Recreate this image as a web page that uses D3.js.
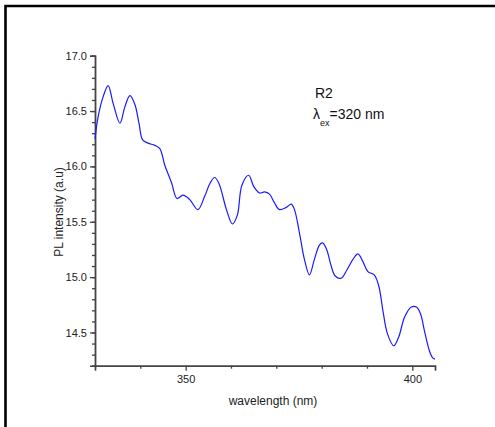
<!DOCTYPE html>
<html lang="en">
  <head>
    <meta charset="utf-8" />
    <title>PL spectrum R2</title>
    <script src="https://d3js.org/d3.v7.min.js"></script>
    <style>
      body { margin: 0; background: #fff; }
      svg { display: block; }
      .tick text { font-family: "Liberation Sans", Arial, sans-serif; font-size: 11px; fill: #222; }
      .axisText { font-family: "Liberation Sans", Arial, sans-serif; font-size: 12px; fill: #222; }
      .note { font-family: "Liberation Sans", Arial, sans-serif; font-size: 14px; fill: #111; }
    </style>
  </head>
  <body>
    <div id="content"></div>
    <script>
      // spectrum: wavelength (nm) and PL intensity (a.u)
      const wavelength = [
        330.0, 330.7, 331.8, 332.9, 334.0, 335.5, 336.6, 337.7, 338.8, 339.7,
        340.5, 341.7, 343.2, 344.3, 345.4, 346.9, 348.1, 349.4, 350.9, 352.7,
        354.2, 355.4, 356.4, 357.3, 359.0, 360.3, 361.4, 362.4, 363.9, 365.0,
        366.3, 367.4, 368.5, 369.6, 370.7, 372.2, 373.3, 374.0, 375.1, 376.2,
        377.3, 378.4, 379.5, 380.2, 381.1, 382.1, 383.0, 384.3, 385.5, 386.9,
        388.0, 389.1, 390.2, 391.6, 392.6, 393.5, 394.5, 395.9, 397.0, 398.3,
        399.8, 400.9, 401.8, 402.7, 403.8, 404.5, 405.0
      ];
      const intensity = [
        16.25, 16.45, 16.63, 16.73, 16.57, 16.39, 16.54, 16.64, 16.56, 16.39,
        16.24, 16.21, 16.19, 16.16, 16.01, 15.85, 15.71, 15.74, 15.70, 15.61,
        15.73, 15.85, 15.90, 15.85, 15.61, 15.48, 15.56, 15.83, 15.92, 15.82,
        15.76, 15.77, 15.75, 15.67, 15.61, 15.63, 15.66, 15.61, 15.40, 15.16,
        15.02, 15.16, 15.29, 15.31, 15.25, 15.10, 15.01, 14.99, 15.06, 15.16,
        15.21, 15.14, 15.05, 15.02, 14.92, 14.70, 14.49, 14.38, 14.46, 14.64,
        14.73, 14.73, 14.67, 14.51, 14.33, 14.27, 14.26
      ];
      const xMajor = [350, 400];
      const xMinor = [340, 360, 370, 380, 390];
      const yMajor = [14.5, 15.0, 15.5, 16.0, 16.5, 17.0];

      const width = 495;
      const height = 427;
      const marginLeft = 95;
      const marginRight = 60;
      const marginTop = 55.7;
      const marginBottom = 61.3;

      const svg = d3.select("#content")
        .append("svg")
        .attr("width", width)
        .attr("height", height);

      // page frame
      svg.append("path")
        .attr("d", "M5.5,427V6H495")
        .attr("fill", "none")
        .attr("stroke", "#000")
        .attr("stroke-width", 2.6);

      const x = d3.scaleLinear()
        .domain([330, 405])
        .range([marginLeft, width - marginRight]);

      const y = d3.scaleLinear()
        .domain([14.2, 17.0])
        .range([height - marginBottom, marginTop]);

      const axisColor = "#444";

      // minor ticks first, then major with labels
      const yAll = d3.range(142, 171).map((v) => v / 10);
      svg.append("g")
        .attr("transform", `translate(${marginLeft},0)`)
        .call(d3.axisLeft(y).tickValues(yAll).tickSize(3).tickFormat(""))
        .call((g) => g.selectAll("line,path").attr("stroke", axisColor).attr("stroke-width", 1.3));

      svg.append("g")
        .attr("transform", `translate(${marginLeft},0)`)
        .call(d3.axisLeft(y).tickValues(yMajor).tickSize(5).tickPadding(3).tickFormat(d3.format(".1f")))
        .call((g) => g.select(".domain").attr("stroke", axisColor).attr("stroke-width", 1.6))
        .call((g) => g.selectAll("line").attr("stroke", axisColor).attr("stroke-width", 1.3));

      svg.append("g")
        .attr("transform", `translate(0,${height - marginBottom})`)
        .call(d3.axisBottom(x).tickValues(xMinor).tickSize(3).tickFormat(""))
        .call((g) => g.selectAll("line,path").attr("stroke", axisColor).attr("stroke-width", 1.3));

      svg.append("g")
        .attr("transform", `translate(0,${height - marginBottom})`)
        .call(d3.axisBottom(x).tickValues(xMajor).tickSize(5).tickPadding(5))
        .call((g) => g.select(".domain").attr("stroke", axisColor).attr("stroke-width", 1.6))
        .call((g) => g.selectAll("line").attr("stroke", axisColor).attr("stroke-width", 1.3));

      svg.append("text")
        .attr("class", "axisText")
        .attr("text-anchor", "middle")
        .attr("x", 273)
        .attr("y", 405)
        .text("wavelength (nm)");

      svg.append("text")
        .attr("class", "axisText")
        .attr("text-anchor", "middle")
        .attr("transform", "translate(63,212) rotate(-90)")
        .text("PL  intensity (a.u)");

      const data = wavelength.map((w, i) => [w, intensity[i]]);

      const line = d3.line()
        .x((d) => x(d[0]))
        .y((d) => y(d[1]))
        .curve(d3.curveCatmullRom.alpha(0.5));

      svg.append("path")
        .datum(data)
        .attr("fill", "none")
        .attr("stroke", "#1a1aff")
        .attr("stroke-width", 1.2)
        .attr("d", line);

      svg.append("text")
        .attr("class", "note")
        .attr("x", 315)
        .attr("y", 98)
        .text("R2");

      const lam = svg.append("text")
        .attr("class", "note")
        .attr("x", 313)
        .attr("y", 119);
      lam.append("tspan").text("λ");
      lam.append("tspan")
        .attr("dy", 7)
        .attr("font-size", 9)
        .text("ex");
      lam.append("tspan")
        .attr("dy", -7)
        .text("=320 nm");
    </script>
  </body>
</html>
